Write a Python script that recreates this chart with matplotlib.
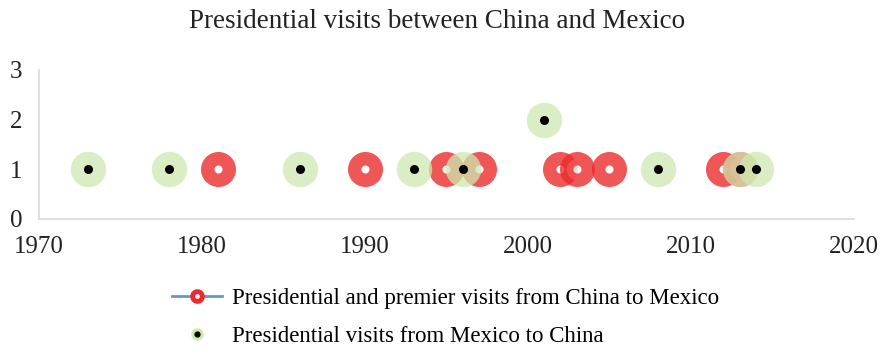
import numpy as np
import matplotlib.pyplot as plt
from matplotlib.lines import Line2D
from matplotlib.legend_handler import HandlerTuple

plt.rcParams['font.family'] = ['Liberation Serif', 'DejaVu Serif']

# visits from China to Mexico (year, count)
china_years = [1981, 1990, 1995, 1997, 2002, 2003, 2005, 2012, 2013]
china_counts = [1, 1, 1, 1, 1, 1, 1, 1, 1]
# visits from Mexico to China
mexico_years = [1973, 1978, 1986, 1993, 1996, 2001, 2008, 2013, 2014]
mexico_counts = [1, 1, 1, 1, 1, 2, 1, 1, 1]

red = '#ec2c2c'
green = '#cfe8b0'

fig = plt.figure(figsize=(8.82, 3.53), dpi=100)
ax = fig.add_axes([0.044, 0.380, 0.924, 0.422])

ax.plot(china_years, china_counts, ls='none', marker='o', ms=15.5, mew=9.7,
        mfc='white', mec=red, alpha=0.8)
ax.plot(mexico_years, mexico_counts, ls='none', marker='o', ms=25.5,
        mfc=green, mec='none', alpha=0.75)
ax.plot(mexico_years, mexico_counts, ls='none', marker='o', ms=6.5,
        mfc='black', mec='none')

ax.set_xlim(1970, 2020)
ax.set_ylim(0, 3)
ax.set_xticks([1970, 1980, 1990, 2000, 2010, 2020])
ax.set_yticks([0, 1, 2, 3])
ax.tick_params(length=0, labelsize=18, colors='#222222')
ax.tick_params(axis='x', pad=12)
ax.tick_params(axis='y', pad=12)
for s in ['top', 'right']:
    ax.spines[s].set_visible(False)
for s in ['left', 'bottom']:
    ax.spines[s].set_color('#d9d9d9')
    ax.spines[s].set_linewidth(1.2)

fig.suptitle('Presidential visits between China and Mexico', x=0.495, y=0.975,
             fontsize=19.5, color='#222222')

h1 = Line2D([], [], color='#5b9bd5', lw=2, marker='o', ms=7, mew=3.5,
            mfc='white', mec=red)
h2a = Line2D([], [], ls='none', marker='o', ms=9, mfc=green, mec='none')
h2b = Line2D([], [], ls='none', marker='o', ms=4.5, mfc='black', mec='none')
fig.legend([h1, (h2a, h2b)],
           ['Presidential and premier visits from China to Mexico',
            'Presidential visits from Mexico to China'],
           handler_map={tuple: HandlerTuple(ndivide=1, pad=0)},
           loc='upper left', bbox_to_anchor=(0.195, 0.185), frameon=False,
           fontsize=16.5, handlelength=2.2, handletextpad=0.4,
           labelspacing=0.75, borderaxespad=0, borderpad=0)

fig.savefig('out.png', dpi=100)
